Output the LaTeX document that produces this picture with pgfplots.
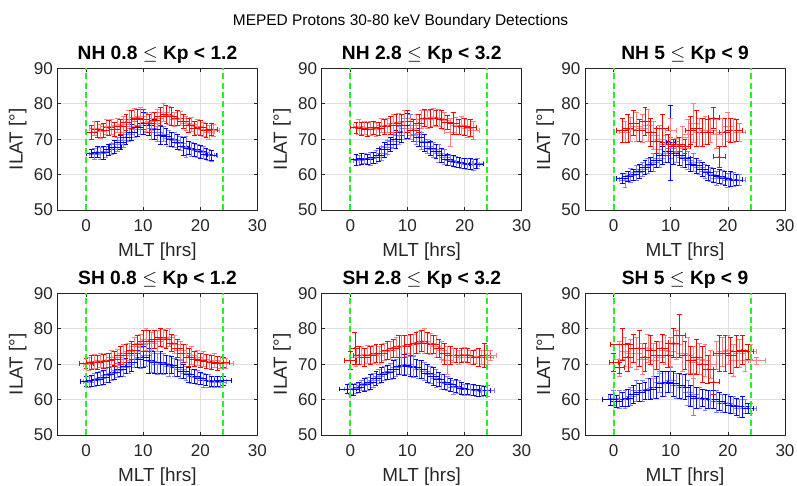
\documentclass[border=0pt]{standalone}
\usepackage{fontspec}
\setmainfont{Liberation Sans}
\usepackage{pgfplots}
\usepackage{pgfplotstable}
\pgfplotsset{compat=1.18}

% ---------------- NH 0.8 <= Kp < 1.2 ----------------
\pgfplotstableread{
x y ex ey
1.5 65.8 1.0 1.5
3.5 66.5 1.0 1.5
5.5 68.5 1.0 2.0
7.5 71.5 1.0 2.0
9.5 74.0 1.0 2.5
11.5 73.0 1.0 3.0
13.5 71.5 1.0 2.0
15.5 69.8 1.0 2.0
17.5 67.8 1.0 3.0
19.5 66.8 1.0 1.8
21.5 65.5 1.0 1.5
}\BAl
\pgfplotstableread{
x y ex ey
2.5 66.0 1.0 1.6
4.5 67.2 1.0 1.6
6.5 69.8 1.0 2.0
8.5 72.8 1.0 2.2
10.5 74.8 1.0 2.8
12.5 72.0 1.0 2.5
14.5 70.2 1.0 2.2
16.5 68.8 1.0 2.0
18.5 67.2 1.0 2.0
20.5 66.3 1.0 1.8
22.0 65.3 1.0 1.5
}\BAm
\pgfplotstableread{
x y ex ey
1 66.0 0.9 1.2
2 66.4 1.0 1.6
3 66.2 1.0 1.8
4 67.0 1.0 1.5
5 67.8 1.1 1.8
6 69.0 1.0 2.0
7 70.5 1.0 2.0
8 72.0 1.0 2.2
9 73.2 1.0 2.5
10 74.5 1.0 3.0
11 74.0 1.0 3.0
12 72.8 1.0 2.8
13 71.0 1.0 2.5
14 70.8 1.0 2.2
15 70.0 1.0 2.0
16 69.2 1.0 2.2
17 68.0 1.0 2.5
18 67.5 1.0 1.8
19 67.0 1.0 1.8
20 66.5 1.0 1.8
21 65.8 1.0 1.6
22 65.5 0.8 1.4
}\BAd
\pgfplotstableread{
x y ex ey
1.5 73.0 1.0 2.0
3.5 73.5 1.0 2.0
5.5 74.0 1.0 2.0
7.5 75.5 1.0 2.5
9.5 76.5 1.0 2.5
11.5 75.0 1.0 2.5
13.5 77.5 1.0 2.5
15.5 75.5 1.0 2.0
17.5 74.5 1.0 2.0
19.5 73.5 1.0 2.0
21.5 72.0 1.0 2.0
}\RAl
\pgfplotstableread{
x y ex ey
2.5 72.3 1.0 2.0
4.5 73.5 1.0 2.0
6.5 74.2 1.0 2.2
8.5 76.2 1.0 2.5
10.5 74.8 1.0 2.5
12.5 76.0 1.0 2.5
14.5 76.8 1.0 2.5
16.5 75.8 1.0 2.0
18.5 74.2 1.0 2.0
20.5 72.8 1.0 2.0
22.3 72.5 1.0 1.8
}\RAm
\pgfplotstableread{
x y ex ey
1 72.0 1.0 2.0
2 72.8 1.0 2.2
3 72.5 1.0 2.0
4 73.2 1.0 2.0
5 72.8 1.0 2.0
6 73.5 1.0 2.0
7 74.8 1.0 2.2
8 75.5 1.0 2.5
9 76.0 1.0 2.5
10 75.5 1.0 2.8
11 74.5 1.0 2.5
12 75.2 1.0 2.5
13 76.5 1.0 2.5
14 77.0 1.0 2.5
15 76.5 1.0 2.5
16 76.0 1.0 2.0
17 75.0 1.0 2.0
18 74.0 1.0 2.0
19 73.0 1.0 2.0
20 73.2 1.0 2.0
21 72.5 1.0 2.0
22 72.8 1.0 1.8
}\RAd

% ---------------- NH 2.8 <= Kp < 3.2 ----------------
\pgfplotstableread{
x y ex ey
1.5 64.0 1.0 1.5
3.5 64.5 1.0 1.8
5.5 66.0 1.0 2.0
7.5 69.5 1.0 2.0
9.5 73.0 1.0 3.0
11.5 71.5 1.0 3.0
13.5 68.0 1.0 2.0
15.5 66.0 1.0 2.5
17.5 64.0 1.0 1.5
19.5 63.2 1.0 1.5
21.5 62.8 1.0 1.5
}\BBl
\pgfplotstableread{
x y ex ey
2.5 64.6 1.0 1.5
4.5 65.0 1.0 1.8
6.5 67.8 1.0 2.0
8.5 71.0 1.0 2.5
10.5 74.0 1.0 3.0
12.5 69.5 1.0 2.5
14.5 67.0 1.0 2.0
16.5 65.0 1.0 2.0
18.5 63.6 1.0 1.5
20.5 63.0 1.0 1.5
22.3 63.2 1.0 1.5
}\BBm
\pgfplotstableread{
x y ex ey
1 64.2 1.0 1.5
2 64.5 1.0 1.5
3 64.3 1.0 1.5
4 64.8 1.0 1.5
5 65.5 1.0 1.8
6 67.0 1.0 2.0
7 68.5 1.0 2.0
8 70.0 1.0 2.5
9 72.0 1.0 3.0
10 73.8 1.0 3.5
11 72.5 1.0 3.0
12 70.5 1.0 2.5
13 69.0 1.0 2.5
14 67.5 1.0 2.0
15 66.5 1.0 2.0
16 65.5 1.0 2.0
17 64.2 1.0 1.5
18 63.8 1.0 1.5
19 63.5 1.0 1.5
20 63.2 1.0 1.5
21 63.0 1.0 1.5
22 63.0 1.2 1.3
}\BBd
\pgfplotstableread{
x y ex ey
1.5 73.5 1.0 2.0
3.5 73.0 1.0 2.0
5.5 73.8 1.0 2.0
7.5 74.5 1.0 2.5
9.5 75.0 1.0 3.0
11.5 74.0 1.0 3.0
13.5 75.5 1.0 2.5
15.5 76.0 1.0 2.5
17.5 72.0 1.0 4.0
19.5 74.0 1.0 2.5
21.5 72.5 1.0 2.5
}\RBl
\pgfplotstableread{
x y ex ey
2.5 73.3 1.0 1.8
4.5 72.8 1.0 2.0
6.5 73.8 1.0 2.0
8.5 74.8 1.0 2.5
10.5 73.0 1.0 3.0
12.5 75.5 1.0 2.5
14.5 76.2 1.0 2.5
16.5 75.2 1.0 2.5
18.5 73.8 1.0 2.5
20.5 73.0 1.0 2.5
}\RBm
\pgfplotstableread{
x y ex ey
1 73.2 1.0 1.5
2 73.0 1.0 1.8
3 72.8 1.0 2.0
4 73.2 1.0 1.8
5 73.0 1.0 1.8
6 73.5 1.0 2.0
7 74.0 1.0 2.5
8 74.5 1.0 2.5
9 74.0 1.0 3.0
10 75.0 1.0 3.0
11 72.5 1.0 3.0
12 74.5 1.0 2.5
13 76.0 1.0 2.5
14 75.8 1.0 2.5
15 76.0 1.0 2.0
16 75.5 1.0 2.5
17 74.8 1.0 2.0
18 74.5 1.0 3.0
19 73.5 1.0 2.0
20 73.5 1.0 2.5
21 73.2 1.0 2.5
}\RBd

% ---------------- NH 5 <= Kp < 9 ----------------
\pgfplotstableread{
x y ex ey
2 58.5 1.0 2.0
4 60.5 1.0 2.0
6 62.5 1.0 2.0
8 64.5 1.0 2.5
10 67.5 1.0 3.0
12 65.0 1.0 3.0
14 63.5 1.0 2.5
16 61.0 1.0 2.0
18 59.0 1.0 2.0
20 58.5 1.0 2.0
22 58.5 1.0 1.5
}\BCl
\pgfplotstableread{
x y ex ey
3 59.8 1.0 2.0
5 61.5 1.0 2.0
7 63.5 1.0 2.5
9 66.0 1.0 2.5
11 66.5 1.0 3.0
13 64.0 1.0 2.5
15 62.0 1.0 2.0
17 60.0 1.0 2.0
19 59.2 1.0 2.0
21 58.6 1.0 2.0
}\BCm
\pgfplotstableread{
x y ex ey
1.5 59.0 1.0 1.5
2.5 59.5 1.0 1.5
3.5 60.0 1.0 1.5
4.5 61.0 1.0 2.0
5.5 62.0 1.0 2.0
6.5 63.0 1.0 2.0
7.5 64.0 1.0 2.0
8.5 65.5 1.0 2.5
9.5 66.5 1.0 3.0
10 69.0 0.8 10.5
10.5 66.0 1.0 3.0
11.5 65.5 1.0 3.0
12.5 64.5 1.0 2.5
13.5 63.0 1.0 2.0
14.5 62.5 1.0 2.0
15.5 61.5 1.0 2.0
16.5 60.5 1.0 2.0
17.5 59.8 1.0 2.0
18.5 59.5 1.0 2.0
19.5 59.0 1.0 2.0
20.5 58.8 1.0 2.0
21.5 58.5 1.0 1.5
}\BCd
\pgfplotstableread{
x y ex ey
2 72.0 1.0 3.0
4 73.5 1.0 4.0
6 74.0 1.0 4.5
8 70.0 1.0 4.0
10 72.5 1.0 3.5
12 70.5 1.0 3.0
14 74.5 1.0 5.5
16 72.5 1.0 4.0
18 71.5 1.0 4.0
20 73.5 1.0 4.0
22 72.0 1.0 2.5
}\RCl
\pgfplotstableread{
x y ex ey
3 72.8 1.0 3.5
5 73.0 1.0 4.0
7 71.0 1.0 4.0
9 68.5 1.0 2.5
11 68.2 1.0 2.0
13 71.5 1.0 4.0
15 72.0 1.0 4.0
17 72.5 1.0 3.5
19 72.0 1.0 4.0
21 72.5 1.0 3.5
}\RCm
\pgfplotstableread{
x y ex ey
1.5 72.5 1.0 3.5
2.5 73.0 1.0 4.0
3.5 74.5 1.0 3.5
4.5 72.5 1.0 3.0
5.5 75.0 1.0 4.0
6.5 72.0 1.0 4.0
7.5 69.5 1.0 3.5
8.5 73.0 1.0 4.0
9.5 68.5 1.0 3.0
10.5 68.0 1.0 2.0
11.5 68.5 1.0 2.0
12.5 68.0 1.0 2.0
13.5 72.5 1.0 4.0
14.5 73.0 1.0 5.0
15.5 72.0 1.0 4.0
16.5 72.0 1.0 3.5
17.5 76.0 1.0 3.0
18.5 65.0 1.0 3.0
19.5 72.0 1.0 4.0
20.5 72.5 1.0 3.5
21.5 72.5 1.0 3.0
}\RCd

% ---------------- SH 0.8 <= Kp < 1.2 ----------------
\pgfplotstableread{
x y ex ey
0.5 65.0 1.0 1.5
2.5 66.0 1.0 2.0
4.5 67.5 1.0 2.0
6.5 69.0 1.0 2.5
8.5 71.5 1.0 2.5
10.5 72.5 1.0 3.0
12.5 70.0 1.0 3.0
14.5 69.5 1.0 3.0
16.5 68.5 1.0 2.5
18.5 66.5 1.0 2.0
20.5 65.5 1.0 2.0
22.5 65.0 1.0 1.5
}\BDl
\pgfplotstableread{
x y ex ey
1.5 65.5 1.0 1.8
3.5 66.8 1.0 2.0
5.5 68.2 1.0 2.0
7.5 70.0 1.0 2.5
9.5 71.8 1.0 3.0
11.5 70.8 1.0 3.0
13.5 70.2 1.0 3.0
15.5 69.2 1.0 2.5
17.5 67.5 1.0 2.0
19.5 66.2 1.0 2.0
21.5 65.3 1.0 1.8
23.5 65.0 1.0 1.5
}\BDm
\pgfplotstableread{
x y ex ey
0 65.2 1.0 1.5
1 65.3 1.0 1.5
2 65.8 1.0 1.8
3 66.3 1.0 2.0
4 67.0 1.0 2.0
5 67.8 1.0 2.0
6 68.5 1.0 2.0
7 69.5 1.0 2.2
8 70.5 1.0 2.5
9 71.5 1.0 2.5
10 72.0 1.0 3.0
11 71.0 1.0 3.5
12 70.5 1.0 3.0
13 70.5 1.0 3.0
14 70.0 1.0 2.5
15 69.8 1.0 2.5
16 69.0 1.0 2.5
17 68.0 1.0 2.0
18 67.0 1.0 2.0
19 66.5 1.0 2.0
20 66.0 1.0 1.8
21 65.5 1.0 1.5
22 65.2 1.0 1.5
23 65.2 1.0 1.5
24 65.3 1.5 1.2
}\BDd
\pgfplotstableread{
x y ex ey
0.5 70.0 1.0 1.8
2.5 71.0 1.0 2.0
4.5 72.0 1.0 2.0
6.5 73.0 1.0 2.5
8.5 75.0 1.0 2.5
10.5 77.0 1.0 3.0
12.5 76.5 1.0 3.0
14.5 77.5 1.0 2.5
16.5 74.0 1.0 2.5
18.5 72.5 1.0 2.5
20.5 71.5 1.0 2.0
22.5 71.0 1.0 2.0
24.5 70.2 1.2 1.5
}\RDl
\pgfplotstableread{
x y ex ey
1.5 70.8 1.0 2.0
3.5 71.2 1.0 2.0
5.5 72.0 1.0 2.2
7.5 73.5 1.0 2.5
9.5 76.0 1.0 2.5
11.5 76.0 1.0 3.0
13.5 77.2 1.0 2.5
15.5 75.5 1.0 2.5
17.5 73.0 1.0 2.5
19.5 71.8 1.0 2.0
21.5 70.8 1.0 2.0
23.5 70.5 1.0 1.8
}\RDm
\pgfplotstableread{
x y ex ey
0 70.2 1.2 1.5
1 70.5 1.0 2.0
2 70.5 1.0 2.0
3 70.8 1.0 2.0
4 71.0 1.0 2.0
5 71.5 1.0 2.0
6 72.5 1.0 2.5
7 73.0 1.0 2.5
8 74.0 1.0 2.5
9 75.5 1.0 2.5
10 76.5 1.0 3.0
11 76.5 1.0 3.0
12 77.0 1.0 2.5
13 77.5 1.0 2.5
14 77.0 1.0 2.5
15 76.0 1.0 2.5
16 74.5 1.0 2.5
17 73.0 1.0 2.5
18 72.0 1.0 2.5
19 71.5 1.0 2.0
20 71.0 1.0 2.0
21 70.8 1.0 2.0
22 70.5 1.0 2.0
23 70.2 1.0 2.0
24 70.5 1.0 1.5
}\RDd

% ---------------- SH 2.8 <= Kp < 3.2 ----------------
\pgfplotstableread{
x y ex ey
0 63.0 1.0 1.5
2 64.0 1.0 1.5
4 65.5 1.0 2.0
6 67.5 1.0 2.0
8 69.0 1.0 2.5
10 70.0 1.0 3.0
12 68.5 1.0 2.5
14 67.0 1.0 2.5
16 65.0 1.0 2.0
18 63.5 1.0 2.0
20 62.8 1.0 1.5
22 62.5 1.0 1.5
24 62.5 1.2 1.5
}\BEl
\pgfplotstableread{
x y ex ey
1 63.2 1.0 1.5
3 64.5 1.0 1.8
5 66.5 1.0 2.0
7 68.0 1.0 2.2
9 69.5 1.0 2.5
11 69.2 1.0 3.0
13 68.0 1.0 2.5
15 66.0 1.0 2.5
17 64.5 1.0 2.0
19 63.5 1.0 1.8
21 62.8 1.0 1.5
23 62.5 1.0 1.5
}\BEm
\pgfplotstableread{
x y ex ey
-0.5 63.0 1.5 1.2
0.5 62.8 1.0 1.5
1.5 63.5 1.0 1.5
2.5 64.2 1.0 1.8
3.5 65.0 1.0 2.0
4.5 66.0 1.0 2.0
5.5 67.0 1.0 2.0
6.5 67.8 1.0 2.0
7.5 68.5 1.0 2.5
8.5 69.5 1.0 2.5
9.5 69.8 1.0 3.0
10.5 69.5 1.0 3.0
11.5 69.0 1.0 2.5
12.5 68.5 1.0 2.5
13.5 67.5 1.0 2.5
14.5 66.5 1.0 2.5
15.5 65.8 1.0 2.0
16.5 65.0 1.0 2.0
17.5 64.2 1.0 1.8
18.5 63.8 1.0 1.8
19.5 63.2 1.0 1.8
20.5 63.0 1.0 1.5
21.5 62.8 1.0 1.5
22.5 62.5 1.0 1.5
23.5 62.5 1.0 1.2
}\BEd
\pgfplotstableread{
x y ex ey
1 72.0 1.0 2.5
3 72.8 1.0 2.5
5 72.5 1.0 2.5
7 74.0 1.0 2.5
9 75.0 1.0 3.0
11 75.5 1.0 3.0
13 76.5 1.0 3.5
15 75.0 1.0 3.0
17 71.0 1.0 4.0
19 72.0 1.0 2.0
21 72.0 1.0 2.0
23 72.0 1.0 2.0
24.5 72.5 1.0 1.5
}\REl
\pgfplotstableread{
x y ex ey
2 72.5 1.0 2.5
4 72.8 1.0 2.5
6 73.5 1.0 2.5
8 74.8 1.0 2.8
10 75.2 1.0 3.0
12 76.2 1.0 3.0
14 75.8 1.0 3.0
16 74.0 1.0 2.5
18 72.5 1.0 2.0
20 72.8 1.0 2.0
22 72.2 1.0 2.0
24 72.0 1.0 2.0
}\REm
\pgfplotstableread{
x y ex ey
0 71.0 1.0 2.5
0.8 74.5 0.8 4.5
1.5 72.5 1.0 2.5
2.5 72.0 1.0 2.5
3.5 72.5 1.0 2.5
4.5 73.0 1.0 2.5
5.5 73.0 1.0 2.5
6.5 74.0 1.0 2.5
7.5 74.5 1.0 2.5
8.5 75.0 1.0 3.0
9.5 75.0 1.0 3.0
10.5 75.5 1.0 3.0
11.5 76.0 1.0 3.0
12.5 76.5 1.0 3.0
13.5 76.0 1.0 3.0
14.5 75.5 1.0 2.5
15.5 74.5 1.0 2.5
16.5 73.0 1.0 3.0
17.5 72.5 1.0 2.5
18.5 72.5 1.0 2.0
19.5 72.5 1.0 2.0
20.5 72.5 1.0 2.0
21.5 72.0 1.0 2.0
22.5 72.0 1.0 2.5
23.5 72.5 1.0 3.5
}\REd

% ---------------- SH 5 <= Kp < 9 ----------------
\pgfplotstableread{
x y ex ey
0 60.5 1.0 2.0
2 60.0 1.0 2.5
4 62.5 1.0 3.0
6 63.0 1.0 3.0
8 65.0 1.0 3.0
10 65.5 1.0 3.5
12 63.5 1.0 3.5
14 61.5 1.0 6.0
16 60.0 1.0 3.0
18 59.5 1.0 3.0
20 59.0 1.0 2.5
22 57.5 1.0 2.5
24 57.5 1.0 1.5
}\BFl
\pgfplotstableread{
x y ex ey
1 60.0 1.0 2.5
3 61.0 1.0 2.5
5 62.5 1.0 3.0
7 63.5 1.0 3.0
9 64.5 1.0 3.5
11 64.0 1.0 3.5
13 62.0 1.0 3.5
15 60.5 1.0 3.0
17 60.0 1.0 2.5
19 59.0 1.0 2.5
21 58.5 1.0 2.5
23 58.0 1.0 2.0
}\BFm
\pgfplotstableread{
x y ex ey
-0.5 60.0 1.5 1.5
0.5 59.5 1.0 1.8
1.5 60.0 1.0 2.0
2.5 60.5 1.0 2.5
3.5 61.5 1.0 2.5
4.5 62.0 1.0 2.5
5.5 62.5 1.0 2.5
6.5 63.0 1.0 3.0
7.5 63.5 1.0 3.0
8.5 64.5 1.0 3.5
9.5 65.0 1.0 3.0
10.5 64.5 1.0 3.5
11.5 64.0 1.0 3.5
12.5 63.5 1.0 3.5
13.5 61.0 1.0 3.0
14.5 60.5 1.0 3.0
15.5 60.5 1.0 2.5
16.5 60.0 1.0 2.5
17.5 60.0 1.0 2.5
18.5 59.5 1.0 2.5
19.5 59.0 1.0 2.5
20.5 58.5 1.0 2.5
21.5 58.0 1.0 2.5
22.5 58.0 1.0 3.0
23.5 57.5 1.0 1.5
}\BFd
\pgfplotstableread{
x y ex ey
1 71.5 1.0 5.0
3 73.0 1.0 4.0
5 71.5 1.0 4.5
7 71.0 1.0 5.0
9 74.0 1.0 4.0
11 75.5 1.0 4.0
13 72.5 1.0 5.0
15 71.5 1.0 4.5
17 70.0 1.0 4.0
19 73.5 1.0 4.0
21 71.0 1.0 4.5
23 71.0 1.0 3.0
25 71.0 1.5 1.0
}\RFl
\pgfplotstableread{
x y ex ey
2 73.5 1.0 4.0
4 73.0 1.0 4.5
6 74.5 1.0 4.0
8 72.0 1.0 4.5
10 73.5 1.0 4.0
12 73.0 1.0 5.0
14 70.5 1.0 4.5
16 71.0 1.0 4.5
18 72.5 1.0 4.0
20 74.0 1.0 4.0
22 73.0 1.0 4.0
24 73.5 1.0 2.0
}\RFm
\pgfplotstableread{
x y ex ey
0 70.5 0.8 2.5
1 69.0 0.8 1.5
1.5 75.5 2.0 4.5
2.5 72.0 1.0 4.0
3.5 74.5 1.0 4.0
4.5 74.5 1.0 5.0
5.5 72.0 1.0 4.0
6.5 74.0 1.0 4.0
7.5 72.5 1.0 4.0
8.5 74.5 1.0 4.0
9.5 72.5 1.0 3.5
10.5 76.0 1.0 4.0
11.5 78.0 1.0 6.0
12.5 72.5 1.0 4.0
13.5 71.0 1.0 4.0
14.5 72.0 1.0 5.0
15.5 70.0 1.0 5.0
16.5 68.5 1.0 4.0
17.5 65.0 1.0 3.5
18.5 73.0 1.0 5.0
19.5 73.0 1.0 5.0
20.5 72.5 1.0 5.0
21.5 73.5 1.0 4.5
22.5 74.0 1.0 4.0
23.5 73.5 1.0 2.0
}\RFd

\definecolor{axgray}{gray}{0.15}
\definecolor{vgreen}{RGB}{40,240,40}

\pgfplotsset{
  panel/.style={
    scale only axis, width=150pt, height=106.3pt, anchor=south west,
    xmin=-5, xmax=30, ymin=50, ymax=90,
    xtick={0,10,20,30}, ytick={50,60,70,80,90},
    grid=major, grid style={gray!25, line width=0.4pt},
    axis line style={axgray, line width=0.5pt},
    tick style={axgray, line width=0.5pt},
    tick align=inside, major tick length=2.5pt,
    /pgf/number format/assume math mode=true,
    tick label style={font=\fontsize{12.8}{15}\selectfont, text=axgray},
    xticklabel style={yshift=-3.7pt},
    xlabel={MLT [hrs]}, ylabel={ILAT [°]},
    label style={font=\fontsize{14.2}{16}\selectfont, text=axgray, inner sep=0.5pt},
    xlabel style={at={(axis description cs:0.5,-0.3246)}, anchor=base},
    ylabel style={at={(axis description cs:-0.199,0.5)}, anchor=center, rotate=0},
    title style={font=\bfseries\fontsize{14.4}{16}\selectfont, text=black, inner sep=0.5pt,
      at={(axis description cs:0.5,1.0635)}, anchor=base, yshift=-6pt},
  },
  ebar/.style={only marks, mark=*, mark size=0.55pt, color=#1,
    error bars/.cd, x dir=both, x explicit, y dir=both, y explicit,
    error bar style={#1, line width=0.45pt},
    error mark options={#1, rotate=90, line width=0.45pt, mark size=1.8pt}},
  vline/.style={vgreen, line width=1.5pt, dash pattern=on 4.5pt off 2.5pt, forget plot},
}

\newcommand{\drawpanel}[6]{%
  \addplot[ebar=blue!50] table[x=x,y=y,x error=ex,y error=ey]{#1};
  \addplot[ebar=blue!50] table[x=x,y=y,x error=ex,y error=ey]{#2};
  \addplot[ebar=blue] table[x=x,y=y,x error=ex,y error=ey]{#3};
  \addplot[ebar=red!50] table[x=x,y=y,x error=ex,y error=ey]{#4};
  \addplot[ebar=red!50] table[x=x,y=y,x error=ex,y error=ey]{#5};
  \addplot[ebar=red] table[x=x,y=y,x error=ex,y error=ey]{#6};
  \addplot[vline] coordinates {(0,50) (0,90)};
  \addplot[vline] coordinates {(24,50) (24,90)};
}

\begin{document}
\begin{tikzpicture}
\path[use as bounding box] (0,0) rectangle (597.75pt,-364.5pt);
\node[anchor=base, font=\fontsize{11.6}{14}\selectfont, text=black] at (300.4pt,-19.3pt)
  {MEPED Protons 30-80 keV Boundary Detections};

\begin{axis}[panel, at={(43.1pt,-157.5pt)}, title={NH 0.8 $\leq$ Kp < 1.2}]
\drawpanel{\BAl}{\BAm}{\BAd}{\RAl}{\RAm}{\RAd}
\end{axis}
\begin{axis}[panel, at={(241.3pt,-157.5pt)}, title={NH 2.8 $\leq$ Kp < 3.2}]
\drawpanel{\BBl}{\BBm}{\BBd}{\RBl}{\RBm}{\RBd}
\end{axis}
\begin{axis}[panel, at={(438.75pt,-157.5pt)}, title={NH 5 $\leq$ Kp < 9}]
\drawpanel{\BCl}{\BCm}{\BCd}{\RCl}{\RCm}{\RCd}
\end{axis}

\begin{axis}[panel, at={(43.1pt,-326.25pt)}, title={SH 0.8 $\leq$ Kp < 1.2}]
\drawpanel{\BDl}{\BDm}{\BDd}{\RDl}{\RDm}{\RDd}
\end{axis}
\begin{axis}[panel, at={(241.3pt,-326.25pt)}, title={SH 2.8 $\leq$ Kp < 3.2}]
\drawpanel{\BEl}{\BEm}{\BEd}{\REl}{\REm}{\REd}
\end{axis}
\begin{axis}[panel, at={(438.75pt,-326.25pt)}, title={SH 5 $\leq$ Kp < 9}]
\drawpanel{\BFl}{\BFm}{\BFd}{\RFl}{\RFm}{\RFd}
\end{axis}
\end{tikzpicture}
\end{document}
